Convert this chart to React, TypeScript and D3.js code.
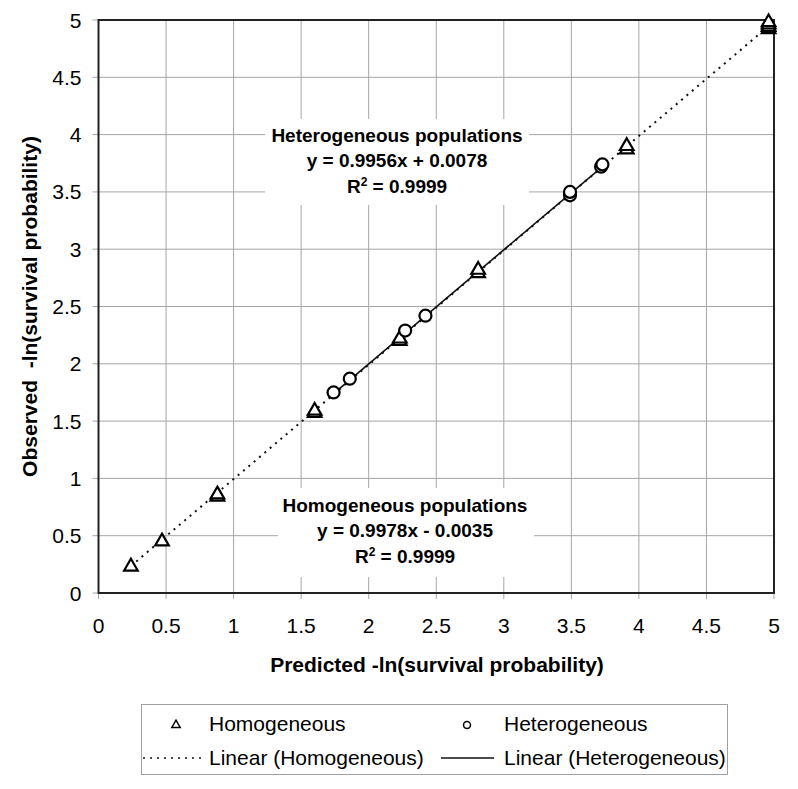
import React, { useEffect, useRef } from "react";
import * as d3 from "d3";

// Homogeneous populations (triangles), replicates overlap
const homX = [0.24, 0.47, 0.88, 0.88, 1.6, 1.6, 2.23, 2.23, 2.81, 2.81, 3.91, 3.91, 4.96, 4.96, 4.96, 4.96];
const homY = [0.23, 0.45, 0.84, 0.86, 1.57, 1.59, 2.2, 2.22, 2.79, 2.82, 3.87, 3.9, 4.92, 4.94, 4.96, 4.98];

// Heterogeneous populations (circles)
const hetX = [1.74, 1.86, 2.27, 2.42, 3.49, 3.49, 3.72, 3.73];
const hetY = [1.75, 1.87, 2.29, 2.42, 3.47, 3.5, 3.72, 3.74];

// trendline coefficients [slope, intercept]
const homFit = [0.9978, -0.0035];
const hetFit = [0.9956, 0.0078];

const xTicks = [0, 0.5, 1, 1.5, 2, 2.5, 3, 3.5, 4, 4.5, 5];
const yTicks = [0, 0.5, 1, 1.5, 2, 2.5, 3, 3.5, 4, 4.5, 5];

const hetLabel = ["Heterogeneous populations", "y = 0.9956x + 0.0078", "R", "= 0.9999"];
const homLabel = ["Homogeneous populations", "y = 0.9978x - 0.0035", "R", "= 0.9999"];

const App = () => {
  const svgRef = useRef<SVGSVGElement>(null);
  const width = 798, height = 789;
  const left = 98.5, right = 774, top = 20, bottom = 593;

  useEffect(() => {
    const svg = d3.select(svgRef.current);
    svg.selectAll("*").remove();

    const x = d3.scaleLinear().domain([0, 5]).range([left, right]);
    const y = d3.scaleLinear().domain([0, 5]).range([bottom, top]);
    const font = "Arial, 'Liberation Sans', sans-serif";

    svg.append("rect").attr("width", width).attr("height", height).attr("fill", "white");

    // gridlines
    svg.append("g").selectAll("line").data(xTicks).join("line")
      .attr("x1", d => x(d)).attr("x2", d => x(d))
      .attr("y1", top).attr("y2", bottom + 6)
      .attr("stroke", "#a6a6a6").attr("stroke-width", 1);
    svg.append("g").selectAll("line").data(yTicks).join("line")
      .attr("x1", left - 6).attr("x2", right)
      .attr("y1", d => y(d)).attr("y2", d => y(d))
      .attr("stroke", "#a6a6a6").attr("stroke-width", 1);

    // plot border
    svg.append("rect")
      .attr("x", left).attr("y", top)
      .attr("width", right - left).attr("height", bottom - top)
      .attr("fill", "none").attr("stroke", "#222").attr("stroke-width", 2);

    // tick labels
    svg.append("g").selectAll("text").data(xTicks).join("text")
      .attr("x", d => x(d)).attr("y", bottom + 40)
      .attr("text-anchor", "middle")
      .style("font-family", font).style("font-size", "21px")
      .text(d => String(d));
    svg.append("g").selectAll("text").data(yTicks).join("text")
      .attr("x", left - 17).attr("y", d => y(d) + 7.5)
      .attr("text-anchor", "end")
      .style("font-family", font).style("font-size", "21px")
      .text(d => String(d));

    // axis titles
    svg.append("text")
      .attr("x", 437).attr("y", 672)
      .attr("text-anchor", "middle")
      .style("font-family", font).style("font-size", "21px").style("font-weight", "bold")
      .text("Predicted -ln(survival probability)");
    svg.append("text")
      .attr("transform", `translate(37,${(top + bottom) / 2}) rotate(-90)`)
      .attr("text-anchor", "middle")
      .style("font-family", font).style("font-size", "21px").style("font-weight", "bold")
      .style("white-space", "pre")
      .text("Observed  -ln(survival probability)");

    // annotation boxes (white background)
    svg.append("rect").attr("x", 265).attr("y", 119).attr("width", 264).attr("height", 86).attr("fill", "white");
    svg.append("rect").attr("x", 278).attr("y", 488).attr("width", 256).attr("height", 89).attr("fill", "white");

    // trendlines
    const line = d3.line<number>().x(d => x(d[0])).y(d => y(d[1]));
    const homExt = d3.extent(homX) as [number, number];
    const hetExt = d3.extent(hetX) as [number, number];
    svg.append("path")
      .datum(homExt.map(v => [v, homFit[0] * v + homFit[1]]))
      .attr("d", line as any)
      .attr("fill", "none").attr("stroke", "#111").attr("stroke-width", 2)
      .attr("stroke-dasharray", "2,5");
    svg.append("path")
      .datum(hetExt.map(v => [v, hetFit[0] * v + hetFit[1]]))
      .attr("d", line as any)
      .attr("fill", "none").attr("stroke", "#111").attr("stroke-width", 1.6);

    // markers
    const tri = d3.symbol().type(d3.symbolTriangle).size(80);
    svg.append("g").selectAll("path").data(homX).join("path")
      .attr("transform", (d, i) => `translate(${x(d)},${y(homY[i])})`)
      .attr("d", tri as any)
      .attr("fill", "white").attr("stroke", "#000").attr("stroke-width", 2.2);
    svg.append("g").selectAll("circle").data(hetX).join("circle")
      .attr("cx", d => x(d)).attr("cy", (d, i) => y(hetY[i]))
      .attr("r", 6)
      .attr("fill", "white").attr("stroke", "#000").attr("stroke-width", 2.2);

    // fit labels
    const fitLabel = (lines: string[], cx: number, y0: number) => {
      const g = svg.append("g")
        .style("font-family", font).style("font-size", "19px").style("font-weight", "bold");
      g.append("text").attr("x", cx).attr("y", y0).attr("text-anchor", "middle").text(lines[0]);
      g.append("text").attr("x", cx).attr("y", y0 + 25).attr("text-anchor", "middle").text(lines[1]);
      const t = g.append("text").attr("x", cx).attr("y", y0 + 51).attr("text-anchor", "middle");
      t.append("tspan").text(lines[2]);
      t.append("tspan").attr("dy", -7).style("font-size", "12px").text("2");
      t.append("tspan").attr("dy", 7).text(" " + lines[3]);
    };
    fitLabel(hetLabel, 397, 142);
    fitLabel(homLabel, 405, 512);

    // legend
    const lg = svg.append("g").style("font-family", font).style("font-size", "21px");
    lg.append("rect")
      .attr("x", 141.5).attr("y", 704.5).attr("width", 586).attr("height", 70)
      .attr("fill", "white").attr("stroke", "#a0a0a0").attr("stroke-width", 1);
    lg.append("path")
      .attr("transform", "translate(176,725)")
      .attr("d", d3.symbol().type(d3.symbolTriangle).size(30)() as string)
      .attr("fill", "white").attr("stroke", "#000").attr("stroke-width", 1.5);
    lg.append("text").attr("x", 209).attr("y", 731).text("Homogeneous");
    lg.append("circle").attr("cx", 467).attr("cy", 725).attr("r", 3.5)
      .attr("fill", "white").attr("stroke", "#000").attr("stroke-width", 1.5);
    lg.append("text").attr("x", 504).attr("y", 731).text("Heterogeneous");
    lg.append("line").attr("x1", 143).attr("x2", 205).attr("y1", 758).attr("y2", 758)
      .attr("stroke", "#111").attr("stroke-width", 1.5).attr("stroke-dasharray", "2,5");
    lg.append("text").attr("x", 209).attr("y", 765).text("Linear (Homogeneous)");
    lg.append("line").attr("x1", 441).attr("x2", 494).attr("y1", 758).attr("y2", 758)
      .attr("stroke", "#111").attr("stroke-width", 1.5);
    lg.append("text").attr("x", 504).attr("y", 765).text("Linear (Heterogeneous)");
  }, []);

  return (
    <svg ref={svgRef} width={width} height={height}
      style={{ position: "absolute", left: 0, top: 0 }} />
  );
};

export default App;
